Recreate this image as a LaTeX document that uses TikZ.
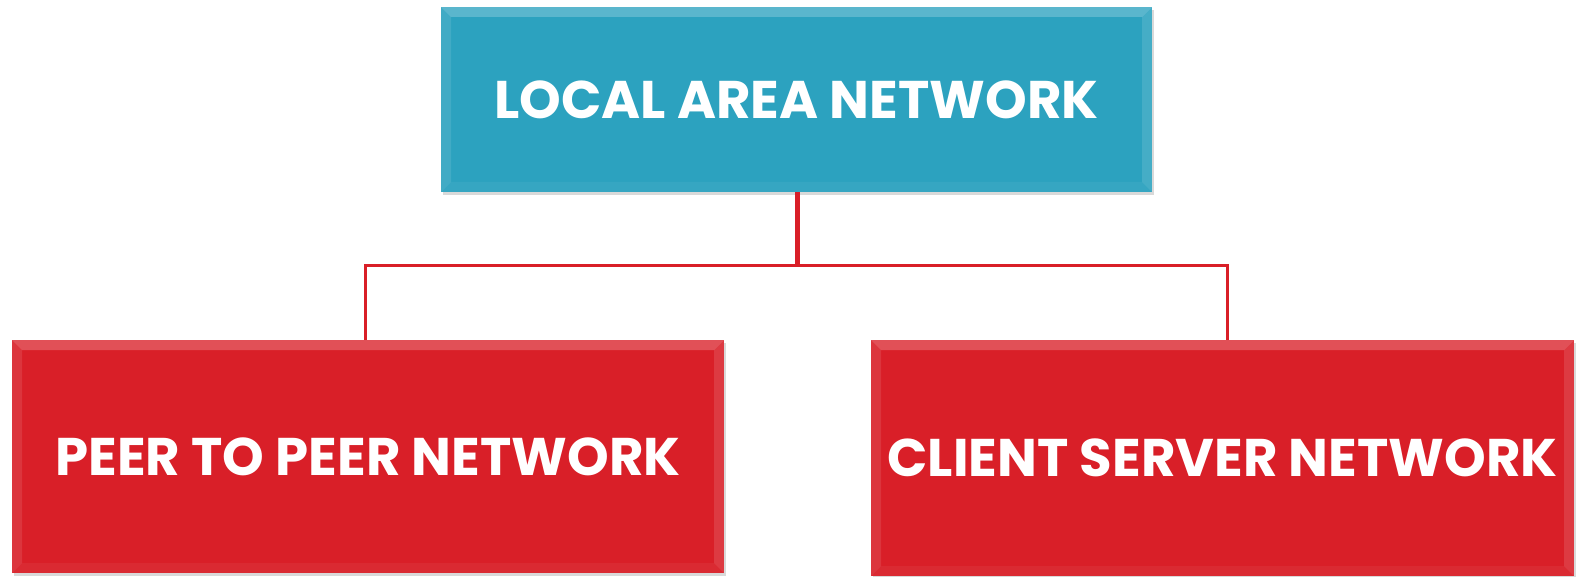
\documentclass[tikz,border=0pt]{standalone}
\usepackage{fontspec}
\setmainfont{Poppins}
\usetikzlibrary{shadows}
\definecolor{lanblue}{HTML}{2CA2BF}
\definecolor{netred}{HTML}{D91F28}
\tikzset{
  bevel/.style={path picture={
      \fill[white, opacity=0.22] (path picture bounding box.north west) -- (path picture bounding box.north east)
        -- ([xshift=-10pt,yshift=-10pt]path picture bounding box.north east) -- ([xshift=10pt,yshift=-10pt]path picture bounding box.north west) -- cycle;
      \fill[white, opacity=0.1] (path picture bounding box.north west) -- ([xshift=10pt,yshift=-10pt]path picture bounding box.north west)
        -- ([xshift=10pt,yshift=10pt]path picture bounding box.south west) -- (path picture bounding box.south west) -- cycle;
      \fill[white, opacity=0.12] (path picture bounding box.north east) -- ([xshift=-10pt,yshift=-10pt]path picture bounding box.north east)
        -- ([xshift=-10pt,yshift=10pt]path picture bounding box.south east) -- (path picture bounding box.south east) -- cycle;
      \fill[white, opacity=0.05] (path picture bounding box.south west) -- ([xshift=10pt,yshift=10pt]path picture bounding box.south west)
        -- ([xshift=-10pt,yshift=10pt]path picture bounding box.south east) -- (path picture bounding box.south east) -- cycle;
    }},
  netbox/.style={bevel, inner sep=0pt, text=white, drop shadow={shadow xshift=2pt, shadow yshift=-3pt, opacity=0.3},
    font=\fontsize{53}{60}\selectfont\bfseries},
  link/.style={netred, line width=3pt}
}
\begin{document}
\begin{tikzpicture}[x=1pt, y=1pt]
    \useasboundingbox (0,0) rectangle (1577,-577);
    % top level
    \node[netbox, fill=lanblue, minimum width=711pt, minimum height=185pt] (lan) at (796.5,-99.5) {LOCAL AREA NETWORK};

    % the two kinds
    \node[netbox, fill=netred, minimum width=712pt, minimum height=233pt] (p2p) at (368,-456.5) {PEER TO PEER NETWORK};
    \node[netbox, fill=netred, minimum width=703pt, minimum height=236pt] (cs) at (1222.5,-458) {CLIENT SERVER NETWORK};

    % connectors
    \coordinate (fork) at (797,-266);
    \draw[link, line width=5pt] (lan.south -| fork) -- (fork);
    \draw[link] (fork) -| ([xshift=-3pt]p2p.north);
    \draw[link] (fork) -| ([xshift=4.5pt]cs.north);
\end{tikzpicture}
\end{document}
